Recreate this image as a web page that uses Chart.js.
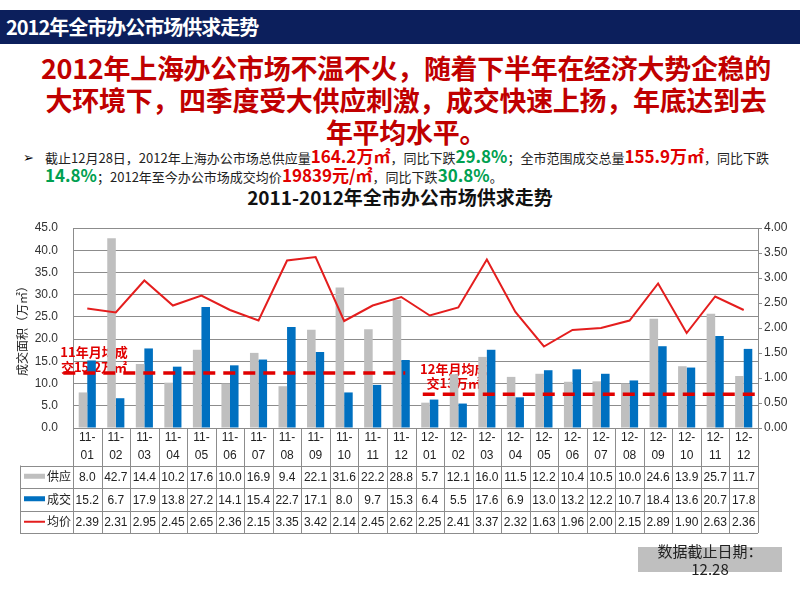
<!DOCTYPE html>
<html>
<head>
<meta charset="utf-8">
<script src="https://cdn.jsdelivr.net/npm/chart.js@4"></script>
<style>
body { margin: 0; width: 800px; height: 600px; position: relative; background: #fff; overflow: hidden;
       font-family: 'Noto Sans CJK SC', 'Noto Sans', sans-serif; }
#bar { position: absolute; left: 0; top: 10px; width: 800px; height: 34px; background: #0c1f5c; }
#bar span { position: absolute; left: 6px; top: 3px; color: #fff; font-weight: bold; font-size: 20px; line-height: 28px; letter-spacing: -1px; }
#headline { position: absolute; left: 6px; top: 52px; width: 800px; text-align: center; color: #c00000;
            font-weight: bold; font-size: 27px; line-height: 32px; letter-spacing: -0.3px; }
#arrow { position: absolute; left: 23px; top: 148px; font-size: 13px; line-height: 19px; font-family: 'DejaVu Sans', sans-serif; }
#bullet { position: absolute; left: 45px; top: 148px; width: 750px; font-size: 13px; line-height: 19px; color: #222; }
#bullet b { font-size: 17px; line-height: 12px; }
.r { color: #e00000; }
.g { color: #00a050; }
#ctitle { position: absolute; left: 0; top: 186px; width: 800px; text-align: center; font-weight: bold; font-size: 19px; line-height: 22px; color: #111; }
#wrap { position: absolute; left: 0; top: 205px; width: 800px; height: 340px; }
#note { position: absolute; left: 638px; top: 547px; width: 144px; height: 25px; background: #bfbfbf; }
#note div { position: absolute; left: 0; width: 144px; text-align: center; font-size: 15px; line-height: 18px; color: #222; }
</style>
</head>
<body>
<div id="bar"><span>2012年全市办公市场供求走势</span></div>
<div id="headline">2012年上海办公市场不温不火，随着下半年在经济大势企稳的<br>大环境下，四季度受大供应刺激，成交快速上扬，年底达到去<br>年平均水平。</div>
<div id="arrow">➢</div>
<div id="bullet">截止12月28日，2012年上海办公市场总供应量<b class="r">164.2万㎡</b>，同比下跌<b class="g">29.8%</b>；全市范围成交总量<b class="r">155.9万㎡</b>，同比下跌<br><b class="g">14.8%</b>；2012年至今办公市场成交均价<b class="r">19839元/㎡</b>，同比下跌<b class="g">30.8%</b>。</div>
<div id="ctitle">2011-2012年全市办公市场供求走势</div>
<div id="wrap"><canvas id="grafico" width="800" height="340"></canvas></div>
<div id="note"><div style="top:-5px">数据截止日期：</div><div style="top:13px">12.28</div></div>

<script>
const months = ['11-01', '11-02', '11-03', '11-04', '11-05', '11-06', '11-07', '11-08', '11-09', '11-10', '11-11', '11-12',
                '12-01', '12-02', '12-03', '12-04', '12-05', '12-06', '12-07', '12-08', '12-09', '12-10', '12-11', '12-12'];
const supply = [8.0, 42.7, 14.4, 10.2, 17.6, 10.0, 16.9, 9.4, 22.1, 31.6, 22.2, 28.8,
                5.7, 12.1, 16.0, 11.5, 12.2, 10.4, 10.5, 10.0, 24.6, 13.9, 25.7, 11.7];
const deal = [15.2, 6.7, 17.9, 13.8, 27.2, 14.1, 15.4, 22.7, 17.1, 8.0, 9.7, 15.3,
              6.4, 5.5, 17.6, 6.9, 13.0, 13.2, 12.2, 10.7, 18.4, 13.6, 20.7, 17.8];
const price = [2.39, 2.31, 2.95, 2.45, 2.65, 2.36, 2.15, 3.35, 3.42, 2.14, 2.45, 2.62,
               2.25, 2.41, 3.37, 2.32, 1.63, 1.96, 2.00, 2.15, 2.89, 1.90, 2.63, 2.36];
const seriesNames = ['供应', '成交', '均价'];
// average lines drawn by hand in the original (left axis values)
const avgValues = [12.4, 7.6];
const avgTexts = [['11年月均成', '交15.2万㎡'], ['12年月均成', '交13万㎡']];
const avgRanges = [[0, 11], [12, 23]];

const cinza = '#bfbfbf';
const azul = '#0070c0';
const vermelho = '#e41e1e';
const linhaGrade = '#8c8c8c';

// linhas de media + textos
const mediaPlugin = {
    id: 'media',
    beforeDatasetsDraw(chart) {
        const ctx = chart.ctx, x = chart.scales.x, y = chart.scales.y;
        const pos = [[chart.chartArea.left + 21, -21, -6], [x.getPixelForValue(12) + 24, -25, -11]];
        ctx.save();
        ctx.fillStyle = '#e00000';
        ctx.font = 'bold 13px "Noto Sans CJK SC"';
        ctx.textAlign = 'center';
        ctx.textBaseline = 'middle';
        avgTexts.forEach(function (t, i) {
            const py = y.getPixelForValue(avgValues[i]);
            ctx.fillText(t[0], pos[i][0], py + pos[i][1]);
            ctx.fillText(t[1], pos[i][0], py + pos[i][2]);
        });
        ctx.restore();
    },
    afterDatasetsDraw(chart) {
        const ctx = chart.ctx, x = chart.scales.x, y = chart.scales.y;
        const ext = [[-24, 4], [-7, 18]];
        ctx.save();
        ctx.strokeStyle = '#e00000';
        ctx.lineWidth = 3.5;
        ctx.setLineDash([12, 8]);
        avgValues.forEach(function (v, i) {
            const py = y.getPixelForValue(v);
            ctx.beginPath();
            ctx.moveTo(x.getPixelForValue(avgRanges[i][0]) + ext[i][0], py);
            ctx.lineTo(x.getPixelForValue(avgRanges[i][1]) + ext[i][1], py);
            ctx.stroke();
        });
        ctx.restore();
    }
};

// tabela de dados embaixo do grafico
const tabelaPlugin = {
    id: 'tabela',
    afterDraw(chart) {
        const ctx = chart.ctx, a = chart.chartArea, x = chart.scales.x;
        const n = months.length;
        const w = (a.right - a.left) / n;
        const topo = a.bottom, alturaCab = 37.5, alturaLinha = 22.5;
        const topoLinhas = topo + alturaCab;
        const linhas = [supply.map(v => v.toFixed(1)), deal.map(v => v.toFixed(1)), price.map(v => v.toFixed(2))];
        const fundo = topoLinhas + linhas.length * alturaLinha;
        const esq = 20;
        ctx.save();
        ctx.strokeStyle = linhaGrade;
        ctx.lineWidth = 1;
        ctx.beginPath();
        for (let i = 0; i <= n; i++) {
            const px = Math.round(x.getPixelForValue(i) - w / 2) + 0.5;
            ctx.moveTo(px, topo);
            ctx.lineTo(px, fundo);
        }
        for (let r = 0; r <= linhas.length; r++) {
            const py = Math.round(topoLinhas + r * alturaLinha) + 0.5;
            ctx.moveTo(esq, py);
            ctx.lineTo(a.right, py);
        }
        ctx.moveTo(esq + 0.5, topoLinhas);
        ctx.lineTo(esq + 0.5, fundo);
        ctx.stroke();

        ctx.fillStyle = '#222';
        ctx.textAlign = 'center';
        ctx.textBaseline = 'middle';
        ctx.font = '12px "Liberation Sans"';
        months.forEach(function (m, i) {
            const px = x.getPixelForValue(i);
            const partes = m.split('-');
            ctx.fillText(partes[0] + '-', px, topo + 10);
            ctx.fillText(partes[1], px, topo + 28);
            linhas.forEach(function (l, r) {
                ctx.fillText(l[i], px, topoLinhas + r * alturaLinha + alturaLinha / 2 + 1);
            });
        });

        ctx.textAlign = 'right';
        ctx.font = '12px "Noto Sans CJK SC"';
        seriesNames.forEach(function (nome, r) {
            const cy = topoLinhas + r * alturaLinha + alturaLinha / 2;
            ctx.fillStyle = '#222';
            ctx.fillText(nome, a.left - 2, cy);
            if (r < 2) {
                ctx.fillStyle = r === 0 ? cinza : azul;
                ctx.fillRect(esq + 4, cy - 3, 21, 5);
            } else {
                ctx.fillStyle = vermelho;
                ctx.fillRect(esq + 4, cy - 1, 21, 2);
            }
        });
        ctx.restore();
    }
};

const dados = {
    labels: months,
    datasets: [{
        type: 'line',
        label: '均价',
        data: price,
        yAxisID: 'y1',
        borderColor: vermelho,
        borderWidth: 2,
        pointRadius: 0,
        tension: 0,
        order: 0
    }, {
        type: 'bar',
        label: '供应',
        data: supply,
        yAxisID: 'y',
        backgroundColor: cinza,
        categoryPercentage: 0.6,
        barPercentage: 1.0,
        order: 1
    }, {
        type: 'bar',
        label: '成交',
        data: deal,
        yAxisID: 'y',
        backgroundColor: azul,
        categoryPercentage: 0.6,
        barPercentage: 1.0,
        order: 1
    }]
};

const config = {
    type: 'bar',
    data: dados,
    plugins: [mediaPlugin, tabelaPlugin],
    options: {
        responsive: false,
        animation: false,
        layout: { padding: { top: 23, bottom: 117, left: 0, right: 0 } },
        plugins: { legend: { display: false }, tooltip: { enabled: false } },
        scales: {
            x: { display: false },
            y: {
                position: 'left',
                min: 0, max: 45,
                ticks: { stepSize: 5, padding: 15, color: '#333', font: { size: 12, family: 'Liberation Sans' },
                         callback: v => v.toFixed(1) },
                grid: { color: linhaGrade, drawTicks: false },
                border: { color: linhaGrade },
                title: { display: true, text: '成交面积（万㎡）', color: '#222', padding: { top: 15, bottom: 0 },
                         font: { size: 12, family: 'Noto Sans CJK SC' } },
                afterFit(s) { s.width = 73; }
            },
            y1: {
                position: 'right',
                min: 0, max: 4,
                ticks: { stepSize: 0.5, padding: 2, color: '#333', font: { size: 12, family: 'Liberation Sans' },
                         callback: v => v.toFixed(2) },
                grid: { drawOnChartArea: false, tickLength: 4, color: linhaGrade },
                border: { color: linhaGrade },
                afterFit(s) { s.width = 42; }
            }
        }
    }
};

const cof = document.getElementById('grafico').getContext('2d');
window.myChart = new Chart(cof, config);
</script>
</body>
</html>
